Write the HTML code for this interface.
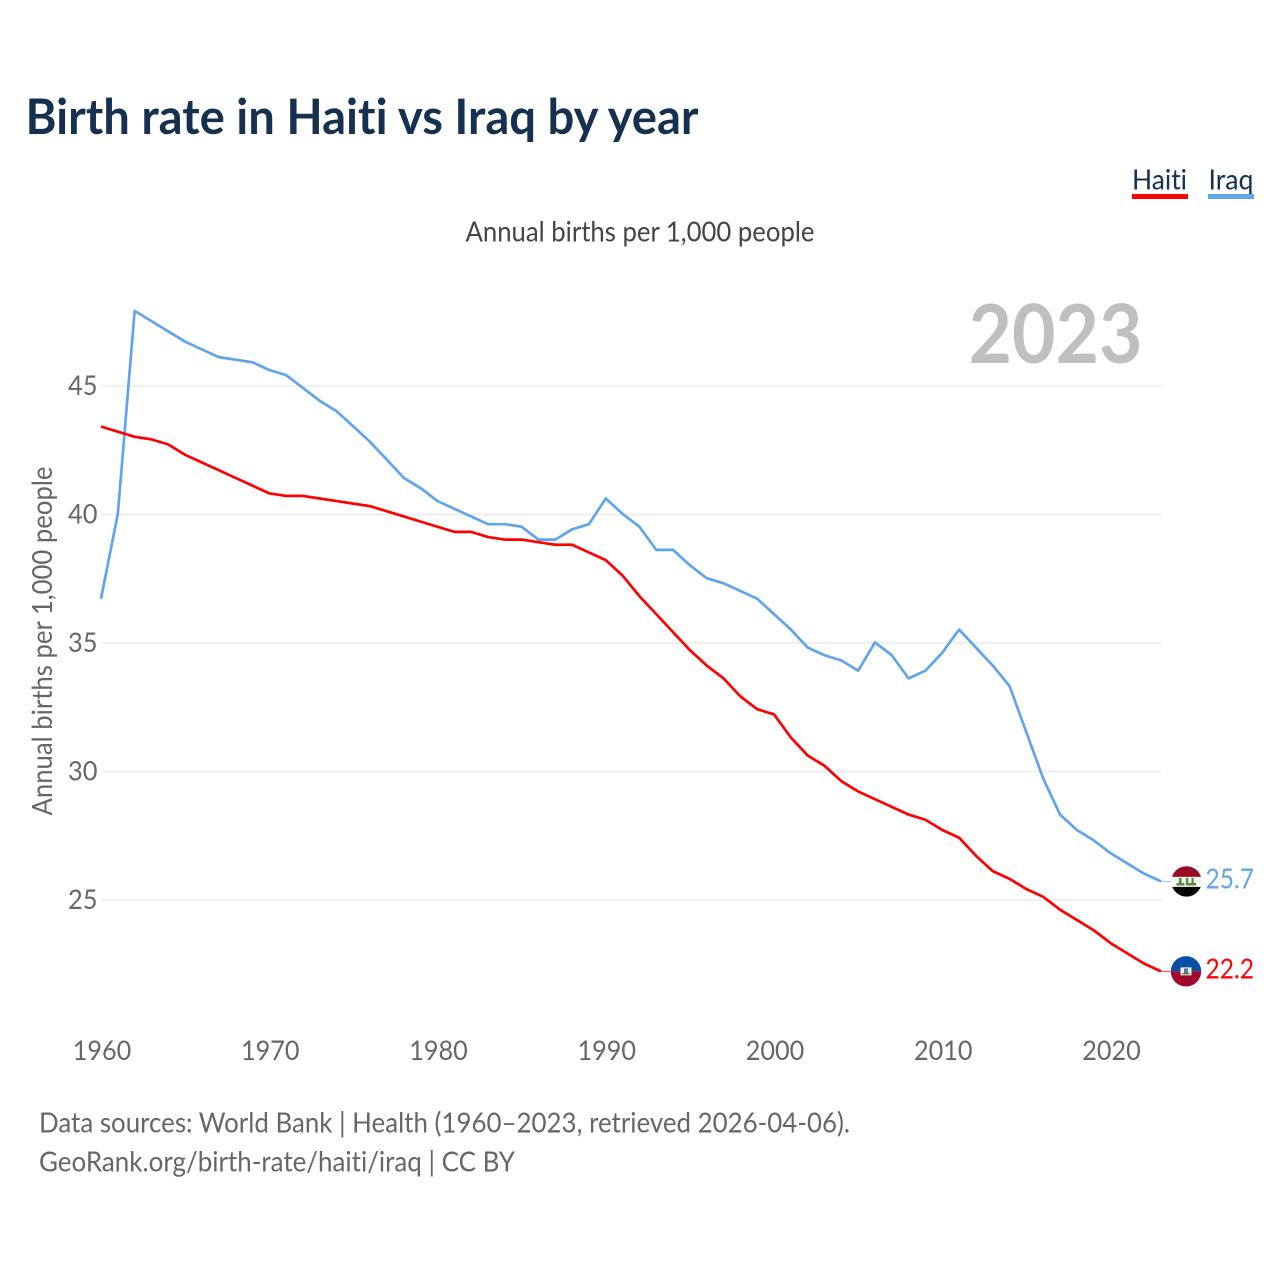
<!DOCTYPE html>
<html lang="en">
<head>
<meta charset="utf-8">
<title>Birth rate in Haiti vs Iraq by year</title>
<style>
html,body{margin:0;padding:0;background:#fff;}
svg{display:block;}
text{font-family:"Lato","Carlito","Liberation Sans",sans-serif;font-variant-ligatures:none;}
</style>
</head>
<body>
<svg id="chart" xmlns="http://www.w3.org/2000/svg" width="1280" height="1280" viewBox="0 0 1280 1280">
  <rect width="1280" height="1280" fill="#fff"/>
  <text x="25.5" y="134" font-size="49" font-weight="700" fill="#163050" textLength="673" lengthAdjust="spacingAndGlyphs">Birth rate in Haiti vs Iraq by year</text>
  <g>
    <text x="1132" y="189.5" font-size="28" fill="#163050" textLength="55" lengthAdjust="spacingAndGlyphs">Haiti</text>
    <rect x="1132" y="194" width="56" height="5" fill="#ff0000"/>
  </g>
  <g>
    <text x="1208.5" y="189.5" font-size="28" fill="#163050" textLength="45" lengthAdjust="spacingAndGlyphs">Iraq</text>
    <rect x="1208" y="194" width="46" height="5" fill="#60a5ec"/>
  </g>
  <text x="465.5" y="241.5" font-size="28" fill="#444" textLength="349" lengthAdjust="spacingAndGlyphs">Annual births per 1,000 people</text>
  <text transform="translate(52,815.5) rotate(-90)" x="0" y="0" font-size="28" fill="#666" textLength="349" lengthAdjust="spacingAndGlyphs">Annual births per 1,000 people</text>
  <g id="grid"></g>
  <g id="yticks"></g>
  <g id="xticks"></g>
  <text x="968.5" y="363" font-size="81" font-weight="700" fill="#bfbfbf" textLength="174" lengthAdjust="spacingAndGlyphs">2023</text>
  <g id="series"></g>
  <defs>
    <clipPath id="flag-clip"><circle cx="0" cy="0" r="15.2"/></clipPath>
  </defs>
  <g id="flag-iraq">
    <g clip-path="url(#flag-clip)">
      <rect x="-16" y="-16" width="32" height="11.5" fill="#9a0b26"/>
      <rect x="-16" y="-4.5" width="32" height="10" fill="#f4f4f2"/>
      <rect x="-16" y="5.5" width="32" height="11" fill="#000"/>
      <rect x="-10" y="1.5" width="8" height="2.6" fill="#5c8a3c"/>
      <rect x="-7.5" y="-3.5" width="2.6" height="6" fill="#5c8a3c"/>
      <rect x="-0.5" y="-3.5" width="2.2" height="7.6" fill="#5c8a3c"/>
      <rect x="1" y="1.5" width="8.5" height="2.6" fill="#5c8a3c"/>
      <rect x="5" y="-3.5" width="2.2" height="7.6" fill="#5c8a3c"/>
    </g>
  </g>
  <g id="flag-haiti">
    <g clip-path="url(#flag-clip)">
      <rect x="-16" y="-16" width="32" height="16" fill="#0a4fa6"/>
      <rect x="-16" y="0" width="32" height="16" fill="#a2082b"/>
      <rect x="-5.5" y="-4" width="11" height="8" fill="#eef0ee"/>
      <rect x="-2" y="-3" width="4" height="5" fill="#5a7d94"/>
      <rect x="-3.5" y="1.5" width="7" height="1.5" fill="#4e7a33"/>
    </g>
  </g>
  <text x="39" y="1132.5" font-size="28" fill="#666" textLength="811" lengthAdjust="spacingAndGlyphs">Data sources: World Bank | Health (1960–2023, retrieved 2026-04-06).</text>
  <text x="39" y="1171.5" font-size="28" fill="#666" textLength="476" lengthAdjust="spacingAndGlyphs">GeoRank.org/birth-rate/haiti/iraq | CC BY</text>
</svg>
<script>
const years = [1960,1961,1962,1963,1964,1965,1966,1967,1968,1969,1970,1971,1972,1973,1974,1975,1976,1977,1978,1979,1980,1981,1982,1983,1984,1985,1986,1987,1988,1989,1990,1991,1992,1993,1994,1995,1996,1997,1998,1999,2000,2001,2002,2003,2004,2005,2006,2007,2008,2009,2010,2011,2012,2013,2014,2015,2016,2017,2018,2019,2020,2021,2022,2023];
const haitiValues = [43.4,43.2,43.0,42.9,42.7,42.3,42.0,41.7,41.4,41.1,40.8,40.7,40.7,40.6,40.5,40.4,40.3,40.1,39.9,39.7,39.5,39.3,39.3,39.1,39.0,39.0,38.9,38.8,38.8,38.5,38.2,37.6,36.8,36.1,35.4,34.7,34.1,33.6,32.9,32.4,32.2,31.3,30.6,30.2,29.6,29.2,28.9,28.6,28.3,28.1,27.7,27.4,26.7,26.1,25.8,25.4,25.1,24.6,24.2,23.8,23.3,22.9,22.5,22.2];
const iraqValues = [36.7,40.0,47.9,47.5,47.1,46.7,46.4,46.1,46.0,45.9,45.6,45.4,44.9,44.4,44.0,43.4,42.8,42.1,41.4,41.0,40.5,40.2,39.9,39.6,39.6,39.5,39.0,39.0,39.4,39.6,40.6,40.0,39.5,38.6,38.6,38.0,37.5,37.3,37.0,36.7,36.1,35.5,34.8,34.5,34.3,33.9,35.0,34.5,33.6,33.9,34.6,35.5,34.8,34.1,33.3,31.5,29.7,28.3,27.7,27.3,26.8,26.4,26.0,25.7];
const yTickValues = [25,30,35,40,45];
const xTickValues = [1960,1970,1980,1990,2000,2010,2020];

const NS = 'http://www.w3.org/2000/svg';
function xScale(year){ return 101 + (year - 1960) * (1161 - 101) / 63; }
function yScale(v){ return 899.4 - (v - 25) * (900 - 386) / 20; }
function make(tag, parent, attrs){
  const el = document.createElementNS(NS, tag);
  for (const k in attrs) el.setAttribute(k, attrs[k]);
  parent.appendChild(el);
  return el;
}

const grid = document.getElementById('grid');
const yticks = document.getElementById('yticks');
yTickValues.forEach(function(v){
  const line = make('line', grid, {x1:101, x2:1161.5, y1:yScale(v)+0.6, y2:yScale(v)+0.6, stroke:'#ececec', 'stroke-width':1.6});
  
  
  const t = make('text', yticks, {x:97.5, y:yScale(v)+9.5, 'text-anchor':'end', 'font-size':27, fill:'#666', textLength:29.5, lengthAdjust:'spacingAndGlyphs'});
  
  
  t.textContent = String(v);
});

const xticks = document.getElementById('xticks');
xTickValues.forEach(function(yr){
  const t = make('text', xticks, {x:xScale(yr)+1, y:1060, 'text-anchor':'middle', 'font-size':27, fill:'#666', textLength:58.5, lengthAdjust:'spacingAndGlyphs'});
  
  
  t.textContent = String(yr);
});

const seriesGroup = document.getElementById('series');
function drawSeries(name, values, color, flagId, flagX){
  const pts = values.map(function(v, i){ return xScale(years[i]).toFixed(2) + ',' + yScale(v).toFixed(2); }).join(' ');
  const last = values[values.length - 1];
  const lastY = yScale(last);
  const conn = make('line', seriesGroup, {x1:xScale(years[years.length-1]), x2:flagX-14, y1:lastY, y2:lastY, stroke:color, 'stroke-width':1, opacity:0.7});
  
  
  const line = make('polyline', seriesGroup, {points:pts, fill:'none', stroke:color, 'stroke-width':2.7, 'stroke-linejoin':'round'});
  
  
  document.getElementById(flagId).setAttribute('transform', 'translate(' + flagX + ',' + lastY + ')');
  const label = make('text', seriesGroup, {x:1205.5, y:lastY+7, 'font-size':28, fill:color, textLength:48.5, lengthAdjust:'spacingAndGlyphs'});
  
  
  label.textContent = last.toFixed(1);
}
drawSeries('iraq', iraqValues, '#60a5ec', 'flag-iraq', 1186.5);
drawSeries('haiti', haitiValues, '#ff0000', 'flag-haiti', 1186);
</script>
</body>
</html>
